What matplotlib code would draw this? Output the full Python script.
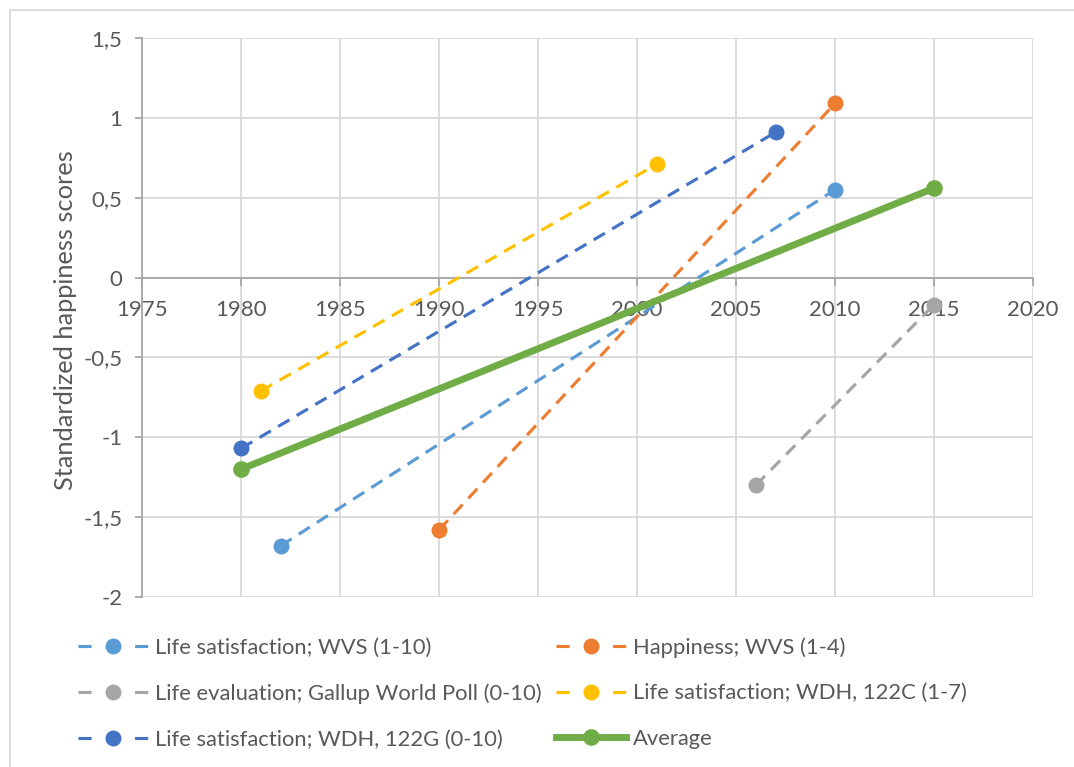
import matplotlib
matplotlib.use("Agg")
import matplotlib.pyplot as plt
from matplotlib.lines import Line2D
from matplotlib.ticker import FuncFormatter

plt.rcParams['font.family'] = ['Lato', 'DejaVu Sans']

# ---- data ----
series_names = [
    "Life satisfaction; WVS (1-10)",
    "Happiness; WVS (1-4)",
    "Life evaluation; Gallup World Poll (0-10)",
    "Life satisfaction; WDH, 122C (1-7)",
    "Life satisfaction; WDH, 122G (0-10)",
    "Average",
]
years_ls_wvs = [1982, 2010]
vals_ls_wvs = [-1.68, 0.55]
years_hap_wvs = [1990, 2010]
vals_hap_wvs = [-1.58, 1.09]
years_gallup = [2006, 2015]
vals_gallup = [-1.30, -0.17]
years_wdh_c = [1981, 2001]
vals_wdh_c = [-0.71, 0.71]
years_wdh_g = [1980, 2007]
vals_wdh_g = [-1.07, 0.91]
years_avg = [1980, 2015]
vals_avg = [-1.20, 0.56]

x_ticks = [1975, 1980, 1985, 1990, 1995, 2000, 2005, 2010, 2015, 2020]
y_ticks = [-2, -1.5, -1, -0.5, 0, 0.5, 1, 1.5]
y_label = "Standardized happiness scores"

colors = ["#5B9BD5", "#ED7D31", "#A5A5A5", "#FFC000", "#4472C4", "#70AD47"]

W, H = 1074, 767
fig = plt.figure(figsize=(W / 100, H / 100), dpi=100)
ax = fig.add_axes([142 / W, 1 - 597 / H, (1033 - 142) / W, (597 - 38) / H])

txt_col = "#595959"
grid_col = "#D9D9D9"
axis_col = "#A6A6A6"
FS_TICK = 16
FS_LEG = 15.8
FS_LAB = 18.3

dashed = [
    (years_ls_wvs, vals_ls_wvs),
    (years_hap_wvs, vals_hap_wvs),
    (years_gallup, vals_gallup),
    (years_wdh_c, vals_wdh_c),
    (years_wdh_g, vals_wdh_g),
]
handles = []
for i, (xs, ys) in enumerate(dashed):
    ax.plot(xs, ys, color=colors[i], lw=2.25, dashes=(4.2, 2.7),
            marker='o', markersize=11.5, markeredgewidth=0, zorder=3,
            clip_on=False)
    handles.append(Line2D([], [], color=colors[i], lw=2.25, dashes=(4.2, 13.9),
                          marker='o', markersize=11.5, markeredgewidth=0))
ax.plot(years_avg, vals_avg, color=colors[5], lw=5, solid_capstyle='butt',
        marker='o', markersize=12, markeredgewidth=0, zorder=4, clip_on=False)
handles.append(Line2D([], [], color=colors[5], lw=5, marker='o',
                      markersize=12, markeredgewidth=0))

ax.set_xlim(1975, 2020)
ax.set_ylim(-2, 1.5)
ax.set_xticks(x_ticks)
ax.set_yticks(y_ticks)
ax.yaxis.set_major_formatter(FuncFormatter(
    lambda v, p: ('%g' % v).replace('.', ',')))

ax.grid(True, color=grid_col, lw=1.3, zorder=0)
ax.set_axisbelow(True)
for s in ['top', 'right']:
    ax.spines[s].set_visible(False)
ax.spines['bottom'].set_position(('data', 0))
ax.spines['bottom'].set_color(axis_col)
ax.spines['bottom'].set_linewidth(1.3)
ax.spines['left'].set_color(axis_col)
ax.spines['left'].set_linewidth(1.3)
ax.spines['bottom'].set_zorder(2.5)

ax.tick_params(axis='x', direction='out', length=6, width=1.3, color=axis_col,
               labelcolor=txt_col, labelsize=FS_TICK, pad=10)
ax.tick_params(axis='y', direction='out', length=5, width=1.3, color=axis_col,
               labelcolor=txt_col, labelsize=FS_TICK, pad=9)
for lab in ax.get_xticklabels():
    lab.set_zorder(5)

fig.text(66 / W, 1 - 320 / H, y_label, rotation=90, ha='center', va='center',
         color=txt_col, fontsize=FS_LAB)

# row-major legend order (matplotlib fills legend columns first)
order = [0, 2, 4, 1, 3, 5]
leg = fig.legend([handles[k] for k in order], [series_names[k] for k in order],
                 loc='upper left', ncols=2,
                 bbox_to_anchor=(78 / W, 1 - 637 / H), frameon=False,
                 fontsize=FS_LEG, handlelength=3.2, handletextpad=0.32,
                 columnspacing=0.65, labelspacing=1.17, labelcolor=txt_col,
                 borderpad=0, borderaxespad=0)

# outer chart frame
fig.add_artist(Line2D([9.5 / W, 1], [1 - 9.5 / H, 1 - 9.5 / H], color=grid_col,
                      lw=1.3, transform=fig.transFigure))
fig.add_artist(Line2D([9.5 / W, 9.5 / W], [0, 1 - 9.5 / H], color=grid_col,
                      lw=1.3, transform=fig.transFigure))

fig.savefig("out.png", dpi=100)
